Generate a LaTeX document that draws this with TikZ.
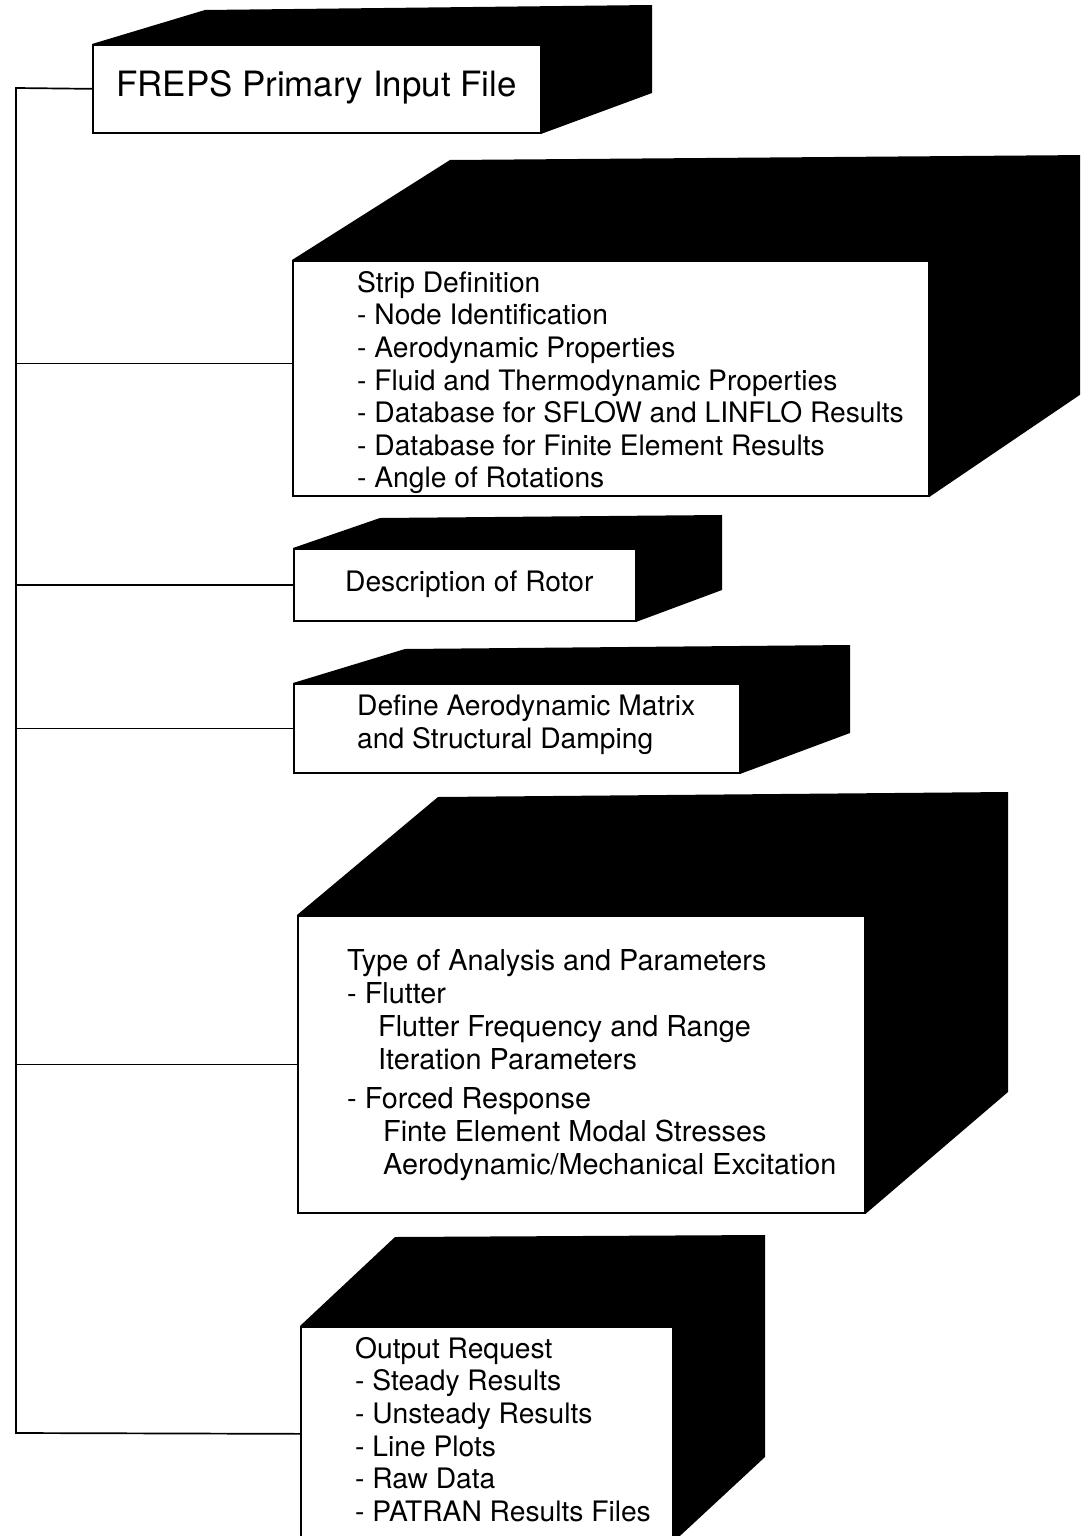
\documentclass[tikz,border=0pt]{standalone}
\usepackage{fontspec}
\setmainfont{TeX Gyre Heros}
\usetikzlibrary{calc}

\begin{document}
\begin{tikzpicture}[x=1pt,y=-1pt,
  face/.style={draw, fill=white, line width=1.7pt, inner sep=0pt, anchor=north west},
  side/.style={fill=black},
  txt/.style={align=left, inner sep=0pt, anchor=north west, font=\fontsize{28.2}{32.6}\selectfont},
  wire/.style={line width=1.7pt}]
\useasboundingbox (0,0) rectangle (1080,1536);
\clip (0,0) rectangle (1080,1536);

% primary input file
\node[face, minimum width=448pt, minimum height=88pt] (freps) at (92,44) {};
\fill[side] (freps.north west) -- (205,10) -- (652,5) -- (652,93) -- (freps.south east) -- (freps.north east) -- cycle;
\node[txt, font=\fontsize{34.9}{40}\selectfont] (freps-t) at (116,70) {FREPS Primary Input File};

% strip definition
\node[face, minimum width=636pt, minimum height=235pt] (strip) at (292,260) {};
\fill[side] (strip.north west) -- (450,160) -- (1090,155) -- (1090,388) -- (strip.south east) -- (strip.north east) -- cycle;
\node[txt] (strip-t) at (357,271) {Strip Definition\\
- Node Identification\\
- Aerodynamic Properties\\
- Fluid and Thermodynamic Properties\\
- Database for SFLOW and LINFLO Results\\
- Database for Finite Element Results\\
- Angle of Rotations};

% rotor
\node[face, minimum width=342pt, minimum height=72pt] (rotor) at (293,548) {};
\fill[side] (rotor.north west) -- (380,518) -- (722,515) -- (722,590) -- (rotor.south east) -- (rotor.north east) -- cycle;
\node[txt] (rotor-t) at (345,571) {Description of Rotor};

% aerodynamic matrix
\node[face, minimum width=446pt, minimum height=89pt] (aero) at (293,683) {};
\fill[side] (aero.north west) -- (405,649) -- (850,645) -- (850,733) -- (aero.south east) -- (aero.north east) -- cycle;
\node[txt] (aero-t) at (357,695) {Define Aerodynamic Matrix\\
and Structural Damping};

% analysis type
\node[face, minimum width=567pt, minimum height=297pt] (analysis) at (297,915) {};
\fill[side] (analysis.north west) -- (438,797) -- (1008,792) -- (1008,1092) -- (analysis.south east) -- (analysis.north east) -- cycle;
\node[txt, font=\fontsize{28.8}{33.2}\selectfont] (analysis-t) at (347,949) {Type of Analysis and Parameters\\
- Flutter\\
\hspace*{31pt}Flutter Frequency and Range\\
\hspace*{31pt}Iteration Parameters\\[5pt]
- Forced Response\\
\hspace*{36pt}Finte Element Modal Stresses\\
\hspace*{36pt}Aerodynamic/Mechanical Excitation};

% output request
\node[face, minimum width=372pt, minimum height=214pt] (output) at (300,1326) {};
\fill[side] (output.north west) -- (395,1237) -- (765,1235) -- (765,1457) -- (output.south east) -- (output.north east) -- cycle;
\node[txt] (output-t) at (355,1337) {Output Request\\
- Steady Results\\
- Unsteady Results\\
- Line Plots\\
- Raw Data\\
- PATRAN Results Files};

% bus on the left
\coordinate (bustop) at (16,88);
\coordinate (busbot) at (16,1433);
\coordinate (striptap) at ([yshift=15pt]strip.west);
\draw[wire] (freps.west) -- (bustop) -- (busbot) -- (output.west);
\draw[wire] (bustop |- striptap) -- (striptap);
\foreach \b in {rotor,aero,analysis} {
  \draw[wire] (bustop |- \b.west) -- (\b.west);
}
\end{tikzpicture}
\end{document}
